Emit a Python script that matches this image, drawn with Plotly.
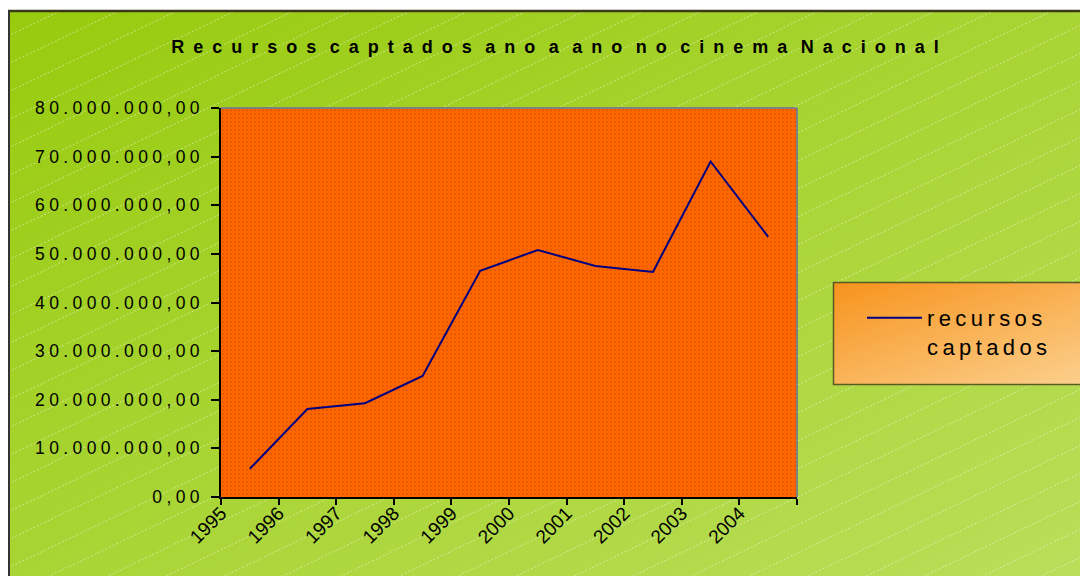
import base64
import plotly.graph_objects as go

# ---------------- data ----------------
years = ["1995", "1996", "1997", "1998", "1999", "2000", "2001", "2002", "2003", "2004"]
recursos = [5.8e6, 18.1e6, 19.3e6, 24.9e6, 46.5e6, 50.8e6, 47.5e6, 46.3e6, 69.0e6, 53.5e6]
y_tick_values = [0, 10e6, 20e6, 30e6, 40e6, 50e6, 60e6, 70e6, 80e6]
title_text = "Recursos captados ano a ano no cinema Nacional"
series_words = ["recursos", "captados"]

# ---------------- geometry (figure sits 8px inside the page) ----------------
OFF = 8
W, H = 1088 - OFF, 576 - OFF
L, R, T, B = 221 - OFF, 797 - OFF, 108 - OFF, 497 - OFF
PW, PH = R - L, B - T
FONT = "Liberation Sans, Arial, sans-serif"


def spaced(text, lg, wg):
    return wg.join(lg.join(w) for w in text.split(" "))


def br_num(v):
    s = f"{v:,.2f}"
    return s.replace(",", "X").replace(".", ",").replace("X", ".")


# ---------------- background svg ----------------
FX, FY = 0, 11 - OFF
lines = []
c = -700
while c < H + 700:
    x1, y1 = FX, c - 0.48 * FX
    x2, y2 = W, c - 0.48 * W
    lines.append(f'<line x1="{x1}" y1="{y1:.1f}" x2="{x2}" y2="{y2:.1f}"/>')
    c += 28
lx, ly = 833 - OFF, 282 - OFF
svg = f'''<svg xmlns="http://www.w3.org/2000/svg" width="{W}" height="{H}" viewBox="0 0 {W} {H}">
<defs>
<linearGradient id="g" x1="0" y1="0" x2="1" y2="1">
<stop offset="0" stop-color="#98CB0E"/><stop offset="1" stop-color="#BADE5A"/>
</linearGradient>
<linearGradient id="lg" x1="0" y1="0" x2="1" y2="1">
<stop offset="0" stop-color="#F7931C"/><stop offset="1" stop-color="#FCD597"/>
</linearGradient>
<clipPath id="cp"><rect x="{FX}" y="{FY}" width="{W-FX}" height="{H-FY}"/></clipPath>
</defs>
<rect x="0" y="0" width="{W}" height="{H}" fill="#FFFFFF"/>
<rect x="{FX}" y="{FY}" width="{W-FX}" height="{H-FY}" fill="url(#g)"/>
<g clip-path="url(#cp)" stroke="#FFFFFF" stroke-opacity="0.45" stroke-width="1" stroke-dasharray="2,2">
{''.join(lines)}
</g>
<rect x="{lx+0.5}" y="{ly+0.5}" width="300" height="102" fill="url(#lg)" stroke="#5A5A22" stroke-width="1.5"/>
<line x1="{FX}" y1="{FY}" x2="{W}" y2="{FY}" stroke="#3A3A18" stroke-width="2.5"/>
<line x1="{FX+1}" y1="{FY-1}" x2="{FX+1}" y2="{H}" stroke="#333333" stroke-width="2"/>
</svg>'''
src = "data:image/svg+xml;base64," + base64.b64encode(svg.encode()).decode()

n = len(years)
x_pos = list(range(n))
x_lo, x_hi = -0.5, n - 0.5
y_lo, y_hi = y_tick_values[0], y_tick_values[-1]

fig = go.Figure()

# dotted orange plot background
fig.add_trace(go.Scatter(
    x=[x_lo, x_hi, x_hi, x_lo, x_lo], y=[y_lo, y_lo, y_hi, y_hi, y_lo],
    mode="none", fill="toself", fillcolor="#FF6600",
    fillpattern=dict(shape=".", bgcolor="#FF6600", fgcolor="#000000", size=4, solidity=0.06),
    hoverinfo="skip", showlegend=False))

fig.add_trace(go.Scatter(
    x=x_pos, y=recursos, mode="lines",
    line=dict(color="#000080", width=2),
    name="<br>".join("\u2009".join(w) for w in series_words)))

fig.update_layout(
    width=W, height=H,
    margin=dict(l=L, r=W - R, t=T, b=H - B),
    paper_bgcolor="#FFFFFF",
    plot_bgcolor="#FF6600",
    font=dict(family=FONT, color="#000000"),
    title=dict(text="<b>" + spaced(title_text, "\u2002", "\u2002\u2005") + "</b>",
               font=dict(size=18, family=FONT, color="#000000"),
               xref="container", yref="container",
               x=(555 - OFF) / W, y=1 - (47 - OFF) / H, xanchor="center", yanchor="middle"),
    showlegend=True,
    legend=dict(x=(862 - OFF - L) / PW, y=1 - (297 - OFF - T) / PH, xanchor="left", yanchor="top",
                bgcolor="rgba(0,0,0,0)", borderwidth=0, valign="top",
                itemwidth=55,
                font=dict(size=22, family=FONT, color="#000000")),
    images=[dict(source=src, xref="paper", yref="paper",
                 x=-L / PW, y=1 + T / PH, sizex=W / PW, sizey=H / PH,
                 xanchor="left", yanchor="top", sizing="stretch", layer="below")],
    shapes=[
        dict(type="line", xref="paper", yref="paper", x0=0, x1=1, y0=1, y1=1,
             line=dict(color="#808080", width=2), layer="above"),
        dict(type="line", xref="paper", yref="paper", x0=1, x1=1, y0=0, y1=1,
             line=dict(color="#808080", width=2), layer="above"),
    ],
)

fig.update_xaxes(
    range=[x_lo, x_hi], showgrid=False, zeroline=False,
    tickmode="array", tickvals=[i - 0.5 for i in range(n + 1)],
    ticktext=years + [""], tickangle=-45,
    ticks="outside", ticklen=6, tickwidth=1.5, tickcolor="#000000",
    showline=True, linecolor="#000000", linewidth=1.5,
    ticklabelstandoff=-10,
    tickfont=dict(size=19, family=FONT, color="#000000"))

fig.update_yaxes(
    range=[y_lo, y_hi], showgrid=False, zeroline=False,
    tickmode="array", tickvals=y_tick_values,
    ticktext=["\u2005".join(br_num(v)) for v in y_tick_values],
    ticks="outside", ticklen=8, tickwidth=1.5, tickcolor="#000000",
    showline=True, linecolor="#000000", linewidth=2,
    ticklabelstandoff=8,
    tickfont=dict(size=17.5, family=FONT, color="#000000"))

fig.write_html("out.html")
